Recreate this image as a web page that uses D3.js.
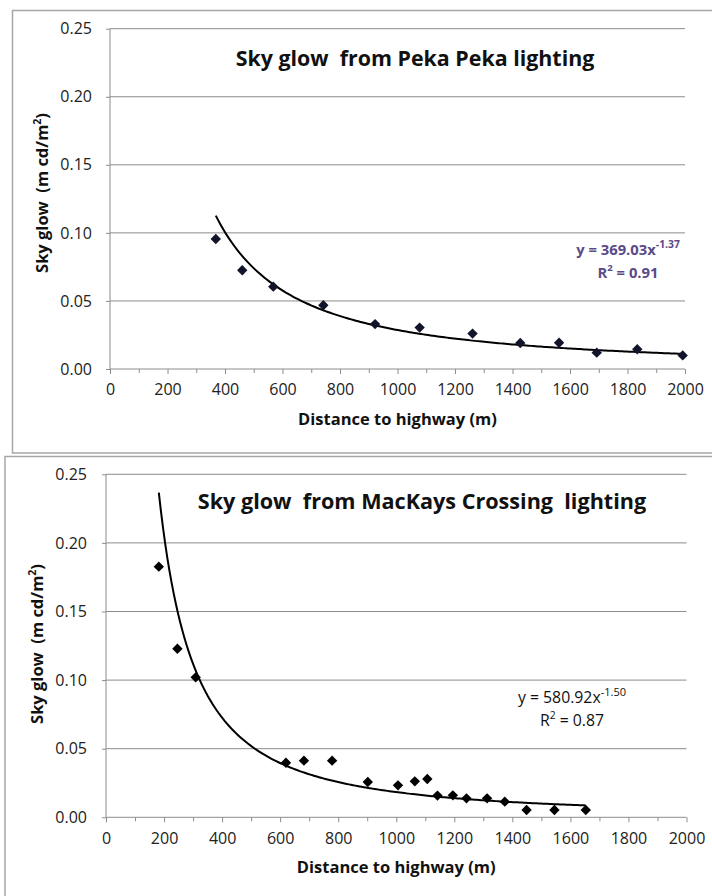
<!DOCTYPE html>
<html><head><meta charset="utf-8">
<script src="https://cdn.jsdelivr.net/npm/d3@7"></script>
<style>
html,body{margin:0;padding:0;background:#fff;}
svg{display:block;font-family:"Open Sans",sans-serif;}
text{white-space:pre;}
</style></head>
<body>
<svg id="c" width="712" height="896"></svg>
<script>
// ---- Data: Peka Peka ----
const pekaDistance = [368, 460, 568, 742, 922, 1077, 1261, 1427, 1562, 1693, 1834, 1992];
const pekaSkyGlow  = [0.0955, 0.0725, 0.0605, 0.0468, 0.033, 0.0304, 0.026, 0.0191, 0.0193, 0.012, 0.0145, 0.010];
const pekaFit = {a: 369.03, b: -1.37, r2: "0.91"};
// ---- Data: MacKays Crossing ----
const mackDistance = [182, 246, 309, 620, 682, 779, 902, 1006, 1064, 1107, 1142, 1195, 1242, 1313, 1374, 1449, 1545, 1653];
const mackSkyGlow  = [0.1827, 0.1229, 0.102, 0.0398, 0.0413, 0.0413, 0.0257, 0.0233, 0.0262, 0.0279, 0.0158, 0.016, 0.0138, 0.0138, 0.0114, 0.0053, 0.0053, 0.0053];
const mackFit = {a: 580.92, b: -1.50, r2: "0.87"};
// ---- Axes ----
const xTicks = [0, 200, 400, 600, 800, 1000, 1200, 1400, 1600, 1800, 2000];
const yTicks = [0, 0.05, 0.10, 0.15, 0.20, 0.25];
const titles = ["Sky glow  from Peka Peka lighting", "Sky glow  from MacKays Crossing  lighting"];
const xTitle = "Distance to highway (m)";

const svg = d3.select("#c");

function drawChart(o) {
  const g = svg.append("g");
  g.append("path").attr("d", o.frame).attr("fill","none").attr("stroke","#a6a6a6").attr("stroke-width",1.5);
  const x = d3.scaleLinear().domain([0,2000]).range([o.left, o.right]);
  const y = d3.scaleLinear().domain([0,0.25]).range([o.bottom, o.top]);
  g.selectAll(".grid").data(yTicks.slice(1)).enter().append("line")
    .attr("x1", o.left).attr("x2", o.right)
    .attr("y1", d=>y(d)).attr("y2", d=>y(d))
    .attr("stroke","#8c8c8c").attr("stroke-width",1);
  const ya = g.append("g").attr("transform",`translate(${o.left},0)`)
    .call(d3.axisLeft(y).tickValues(yTicks).tickFormat(d3.format(".2f")).tickSize(4).tickPadding(o.yPad));
  ya.select(".domain").attr("stroke","#8c8c8c").attr("d", `M0,${o.bottom}V${o.top}`);
  ya.selectAll(".tick line").attr("stroke","#8c8c8c");
  ya.selectAll("text").attr("font-size",16).attr("fill","#222").attr("font-family","Open Sans");
  const xa2 = g.append("g").attr("transform",`translate(0,${o.bottom})`)
    .call(d3.axisBottom(x).tickValues(d3.range(100,2000,200)).tickFormat("").tickSize(4));
  xa2.select(".domain").remove();
  xa2.selectAll(".tick line").attr("stroke","#8c8c8c");
  const xa = g.append("g").attr("transform",`translate(0,${o.bottom})`)
    .call(d3.axisBottom(x).tickValues(xTicks).tickFormat(d3.format("d")).tickSize(5).tickPadding(10));
  xa.select(".domain").attr("stroke","#8c8c8c").attr("d", `M${o.left},0H${o.right}`);
  xa.selectAll(".tick line").attr("stroke","#8c8c8c");
  xa.selectAll("text").attr("font-size",16).attr("fill","#222").attr("font-family","Open Sans");
  g.append("text").attr("x",(o.left+o.right)/2).attr("y",o.bottom+56)
    .attr("text-anchor","middle").attr("font-weight","bold").attr("font-size",16.5).attr("fill","#111").text(xTitle);
  const yt = g.append("text").attr("transform",`translate(${o.yTitleX},${o.yTitleY}) rotate(-90)`)
    .attr("text-anchor","middle").attr("font-weight","bold").attr("font-size",16.5).attr("fill","#111");
  yt.append("tspan").text("Sky glow  (m cd/m");
  yt.append("tspan").attr("font-size",10.5).attr("dy",-7).text("2");
  yt.append("tspan").attr("dy",7).text(")");
  g.append("text").attr("x",o.titleX).attr("y",o.titleY).attr("text-anchor","middle")
    .attr("font-weight","bold").attr("font-size",o.titleSize).attr("fill","#111").text(o.title);
  const xs = d3.range(0,201).map(i => d3.min(o.xs) + (d3.max(o.xs)-d3.min(o.xs))*i/200);
  const line = d3.line().x(d=>x(d)).y(d=>y(o.fit.a*Math.pow(d,o.fit.b)));
  g.append("path").datum(xs).attr("d",line).attr("fill","none").attr("stroke","#000").attr("stroke-width",2);
  const sym = d3.symbol().type(d3.symbolSquare).size(54);
  g.selectAll(".pt").data(o.xs.map((d,i)=>[d,o.ys[i]])).enter().append("path")
    .attr("d",sym).attr("transform",d=>`translate(${x(d[0])},${y(d[1])}) rotate(45)`).attr("fill",o.markerColor);
  const eq = g.append("text").attr("x",o.eqX).attr("y",o.eqY).attr("text-anchor","middle")
    .attr("font-size",o.eqSize).attr("font-weight",o.eqWeight).attr("fill",o.eqColor);
  eq.append("tspan").text(`y = ${o.fit.a.toFixed(2)}x`);
  eq.append("tspan").attr("font-size",o.eqSize*0.7).attr("dy",-7).text(o.fit.b.toFixed(2));
  const r2 = g.append("text").attr("x",o.eqX).attr("y",o.eqY+23).attr("text-anchor","middle")
    .attr("font-size",o.eqSize).attr("font-weight",o.eqWeight).attr("fill",o.eqColor);
  r2.append("tspan").text("R");
  r2.append("tspan").attr("font-size",o.eqSize*0.65).attr("dy",-7).text("2");
  r2.append("tspan").attr("dy",7).text(` = ${o.fit.r2}`);
}

drawChart({
  frame: "M720,10.5H12.5V453H720",
  left:110, right:685, top:28.7, bottom:369,
  xs: pekaDistance, ys: pekaSkyGlow, fit: pekaFit,
  title: titles[0], titleX:415, titleY:66, titleSize:21.4, yPad:14,
  yTitleX:48, yTitleY:193,
  eqX:628, eqY:255, eqColor:"#5b4a87", eqWeight:"bold", eqSize:14.8,
  markerColor:"#11142a"
});
drawChart({
  frame: "M720,456.5H5V900",
  left:106, right:686.5, top:474.3, bottom:817.3,
  xs: mackDistance, ys: mackSkyGlow, fit: mackFit,
  title: titles[1], titleX:422, titleY:509, titleSize:21.6, yPad:15,
  yTitleX:43, yTitleY:644,
  eqX:572, eqY:703, eqColor:"#111", eqWeight:"normal", eqSize:15.8,
  markerColor:"#000"
});
</script>
</body></html>
